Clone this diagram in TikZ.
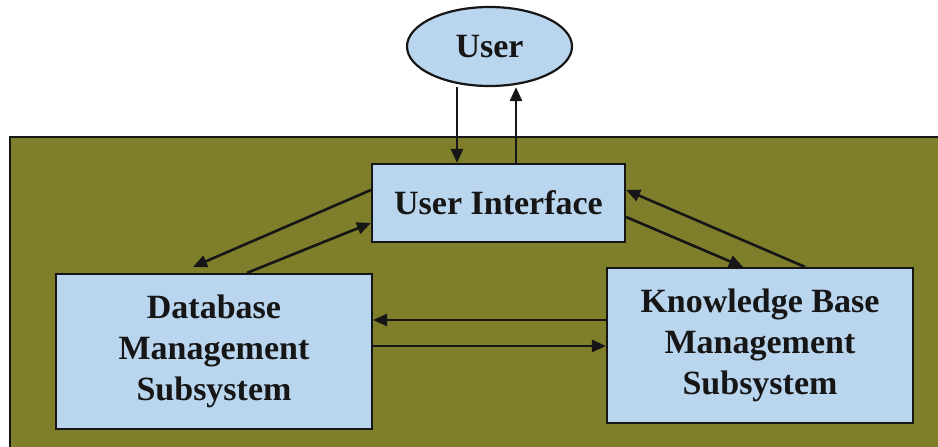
\documentclass[tikz,border=0pt]{standalone}
\usepackage{fontspec}
\setmainfont{Liberation Serif}
\usetikzlibrary{arrows.meta,shapes.geometric}
\definecolor{olive}{HTML}{7F7E2B}
\definecolor{boxblue}{HTML}{BAD5EE}
\definecolor{ink}{HTML}{161616}
\tikzset{
  blk/.style={draw=ink, line width=2.2pt, fill=boxblue, align=center, inner sep=0pt,
     font=\bfseries\fontsize{34}{41}\selectfont, text=ink},
  arr/.style={draw=ink, line width=2.6pt, -{Triangle[length=14pt,width=12pt]}},
}
\begin{document}
\begin{tikzpicture}[x=1pt,y=-1pt]
\useasboundingbox (0,0) rectangle (938,447);
\fill[white] (0,0) rectangle (938,447);
\draw[draw=ink, line width=2pt, fill=olive] (10,137) rectangle (950,460);
\node[blk, ellipse, minimum width=165pt, minimum height=79pt] (user) at (489.5,46.5) {User};
\node[blk, minimum width=253pt, minimum height=78pt] (ui) at (498.5,203) {User Interface};
\node[blk, minimum width=316pt, minimum height=155pt] (db) at (214,351.5) {Database\\Management\\Subsystem};
\node[blk, minimum width=306pt, minimum height=155pt] (kb) at (760,345.5) {Knowledge Base\\Management\\Subsystem};
% user <-> ui
\draw[arr] ([xshift=-32.5pt]user.south) -- ([xshift=-41.5pt]ui.north);
\draw[arr] ([xshift=17.5pt]ui.north) -- ([xshift=26.5pt]user.south);
% ui <-> db
\draw[arr] ([yshift=13pt]ui.west) -- ([xshift=-21pt,yshift=6pt]db.north);
\draw[arr] ([xshift=33pt]db.north) -- ([yshift=-20pt]ui.west);
% ui <-> kb
\draw[arr] ([yshift=-14pt]ui.east) -- ([xshift=-17pt]kb.north);
\draw[arr] ([xshift=45pt]kb.north) -- ([yshift=13pt]ui.east);
% db <-> kb
\draw[arr] ([yshift=25.5pt]kb.west) -- ([yshift=31.5pt]db.east);
\draw[arr] ([yshift=5.5pt]db.east) -- ([yshift=-0.5pt]kb.west);
\end{tikzpicture}
\end{document}
